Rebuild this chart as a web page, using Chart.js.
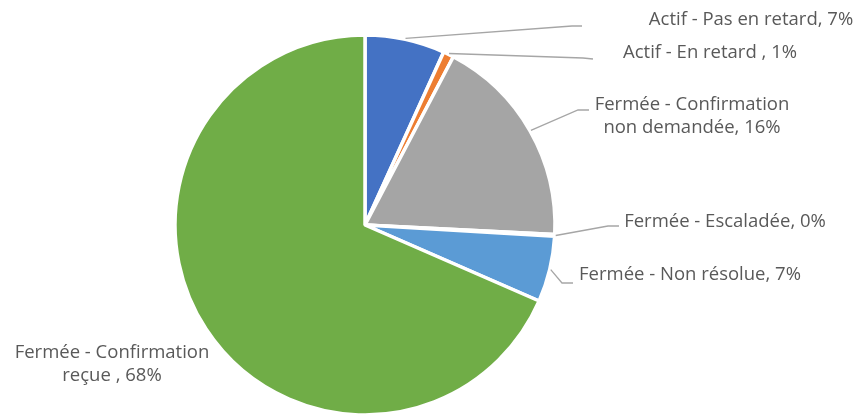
<!DOCTYPE html>
<html><head><meta charset="utf-8">
<script src="https://cdn.jsdelivr.net/npm/chart.js@4"></script>
<style>html,body{margin:0;padding:0;background:#fff;}#wrap{width:861px;height:414px;position:relative;}</style>
</head><body><div id="wrap"><canvas id="c" width="861" height="414"></canvas></div>
<script>
const categories = ["Actif - Pas en retard", "Actif - En retard ", "Fermée - Confirmation non demandée", "Fermée - Escaladée", "Fermée - Non résolue", "Fermée - Confirmation reçue "];
const values = [6.8, 0.9, 18.1, 0.15, 5.6, 68.45];
const percentLabels = ["7%", "1%", "16%", "0%", "7%", "68%"];
const colors = ["#4472C4", "#ED7D31", "#A5A5A5", "#FFC000", "#5B9BD5", "#70AD47"];

// label layout (text lines, text centre, leader elbow/end)
const labelLayout = [
  {lines:["Actif - Pas en retard, 7%"], x:751, y:20, elbow:[572,26], end:[582,26]},
  {lines:["Actif - En retard , 1%"], x:710, y:53, elbow:[583,58], end:[593,59]},
  {lines:["Fermée - Confirmation","non demandée, 16%"], x:692, y:105, elbow:[578,110], end:[589,110]},
  {lines:["Fermée - Escaladée, 0%"], x:725, y:222, elbow:[608,226], end:[619,226]},
  {lines:["Fermée - Non résolue, 7%"], x:690, y:275, elbow:[562,283], end:[573,283]},
  {lines:["Fermée - Confirmation","reçue , 68%"], x:112, y:353, elbow:null, end:null}
];

const labelPlugin = {
  id:'pieLabels',
  afterDatasetsDraw(chart){
    const ctx = chart.ctx;
    const meta = chart.getDatasetMeta(0);
    ctx.save();
    meta.data.forEach((arc,i)=>{
      const L = labelLayout[i];
      if(!L) return;
      const p = arc.getProps(['x','y','startAngle','endAngle','outerRadius'], true);
      if(L.elbow){
        const mid = (p.startAngle+p.endAngle)/2;
        const r = p.outerRadius + 1;
        const sx = p.x + Math.cos(mid)*r, sy = p.y + Math.sin(mid)*r;
        ctx.beginPath();
        ctx.strokeStyle = '#A6A6A6';
        ctx.lineWidth = 1.3;
        ctx.moveTo(sx,sy);
        ctx.lineTo(L.elbow[0],L.elbow[1]);
        ctx.lineTo(L.end[0],L.end[1]);
        ctx.stroke();
      }
      ctx.fillStyle = '#595959';
      ctx.font = '18.5px "Open Sans"';
      ctx.textAlign = 'center';
      ctx.textBaseline = 'middle';
      L.lines.forEach((t,k)=>ctx.fillText(t, L.x, L.y + k*23));
    });
    ctx.restore();
  }
};

new Chart(document.getElementById('c'), {
  type:'pie',
  data:{
    labels: categories,
    datasets:[{
      data: values,
      backgroundColor: colors,
      borderColor:'#FFFFFF',
      borderWidth:3.5,
      radius:190
    }]
  },
  options:{
    responsive:false,
    animation:false,
    layout:{padding:{left:176, right:307, top:36, bottom:0}},
    plugins:{legend:{display:false}, tooltip:{enabled:false}}
  },
  plugins:[labelPlugin]
});
</script>
</body></html>
